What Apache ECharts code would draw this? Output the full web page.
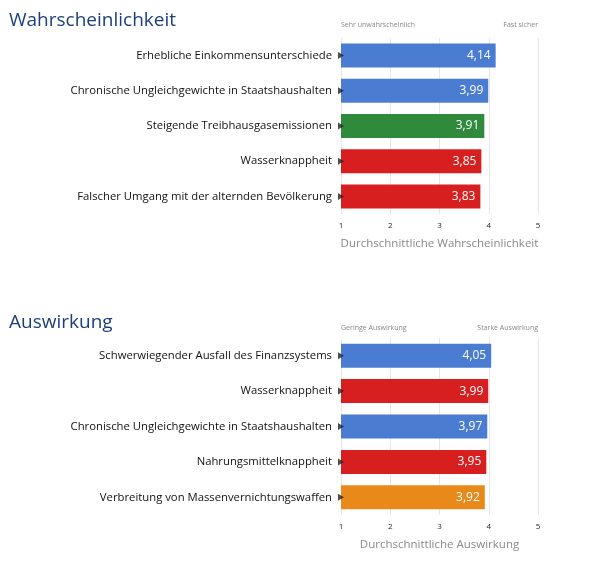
<!DOCTYPE html>
<html>
<head>
<meta charset="utf-8">
<script src="https://cdn.jsdelivr.net/npm/echarts@6/dist/echarts.min.js"></script>
<style>html,body{margin:0;padding:0;background:#fff}#c{width:595px;height:567px}</style>
</head>
<body>
<div id="c"></div>
<script>
// Wahrscheinlichkeit
const catsTop = ['Erhebliche Einkommensunterschiede', 'Chronische Ungleichgewichte in Staatshaushalten',
    'Steigende Treibhausgasemissionen', 'Wasserknappheit', 'Falscher Umgang mit der alternden Bevölkerung'];
const valsTop = [4.14, 3.99, 3.91, 3.85, 3.83];
const colsTop = ['#4a7dd1', '#4a7dd1', '#2f8a3c', '#d81f1f', '#d81f1f'];
// Auswirkung
const catsBot = ['Schwerwiegender Ausfall des Finanzsystems', 'Wasserknappheit',
    'Chronische Ungleichgewichte in Staatshaushalten', 'Nahrungsmittelknappheit', 'Verbreitung von Massenvernichtungswaffen'];
const valsBot = [4.05, 3.99, 3.97, 3.95, 3.92];
const colsBot = ['#4a7dd1', '#d81f1f', '#4a7dd1', '#d81f1f', '#e8891a'];
const ticks = [1, 2, 3, 4, 5];

const font = 'Open Sans';
const chart = echarts.init(document.getElementById('c'));

function xAxis(gridIndex, name) {
    return {
        gridIndex: gridIndex, type: 'value', min: 1, max: 5, interval: 1,
        name: name, nameLocation: 'middle', nameGap: 24,
        nameTextStyle: { color: '#888', fontSize: 11.5, fontFamily: font },
        axisLine: { show: false }, axisTick: { show: false },
        axisLabel: { color: '#222', fontSize: 8, fontFamily: font, formatter: v => ticks.includes(v) ? String(v) : '' },
        splitLine: { lineStyle: { color: '#e6e6e6' } }
    };
}
function yAxis(gridIndex, cats) {
    return {
        gridIndex: gridIndex, type: 'category', data: cats, inverse: true,
        axisLine: { show: false }, axisTick: { show: false },
        axisLabel: { color: '#111', fontSize: 11.3, fontFamily: font, margin: 9 }
    };
}
function bars(idx, vals, cols) {
    return {
        type: 'bar', xAxisIndex: idx, yAxisIndex: idx, barWidth: 24,
        data: vals.map((v, i) => ({ value: v, itemStyle: { color: cols[i] } })),
        label: { show: true, position: 'insideRight', color: '#fff', fontSize: 12, fontFamily: font,
            formatter: p => p.value.toFixed(2).replace('.', ',') }
    };
}
function arrows(idx, vals) {
    return {
        type: 'scatter', xAxisIndex: idx, yAxisIndex: idx, symbol: 'triangle', symbolRotate: -90,
        symbolSize: [7, 6], itemStyle: { color: '#222' }, z: 5, silent: true,
        data: vals.map((v, i) => [1, i])
    };
}

const small = { color: '#888', fontSize: 7, fontWeight: 'normal', fontFamily: font };
chart.setOption({
    animation: false,
    grid: [
        { left: 341, right: 57, top: 38, height: 176 },
        { left: 341, right: 57, top: 338, height: 177 }
    ],
    title: [
        { text: 'Wahrscheinlichkeit', left: 4, top: 6, textStyle: { color: '#1c3f7c', fontSize: 19, fontWeight: 'normal', fontFamily: font } },
        { text: 'Auswirkung', left: 4, top: 308, textStyle: { color: '#1c3f7c', fontSize: 19, fontWeight: 'normal', fontFamily: font } },
        { text: 'Sehr unwahrscheinlich', left: 336, top: 16, textStyle: small },
        { text: 'Fast sicher', right: 52, top: 16, textStyle: small },
        { text: 'Geringe Auswirkung', left: 336, top: 319, textStyle: small },
        { text: 'Starke Auswirkung', right: 52, top: 319, textStyle: small }
    ],
    xAxis: [xAxis(0, 'Durchschnittliche Wahrscheinlichkeit'), xAxis(1, 'Durchschnittliche Auswirkung')],
    yAxis: [yAxis(0, catsTop), yAxis(1, catsBot)],
    series: [bars(0, valsTop, colsTop), bars(1, valsBot, colsBot), arrows(0, valsTop), arrows(1, valsBot)]
});
</script>
</body>
</html>
